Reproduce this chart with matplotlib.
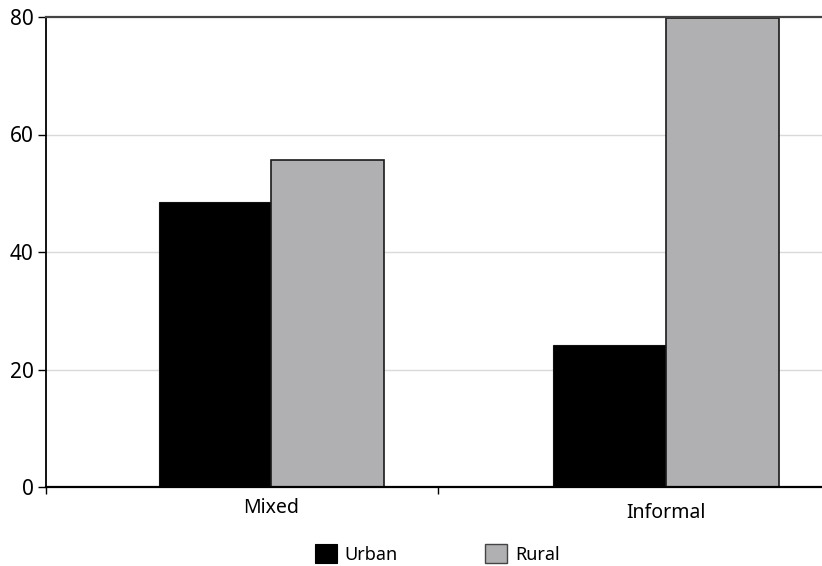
import matplotlib
matplotlib.use("Agg")
import matplotlib.pyplot as plt
from matplotlib.patches import Patch
from matplotlib.transforms import blended_transform_factory

categories = ["Mixed", "Informal"]
urban = [48.5, 24.2]
rural = [55.7, 79.8]
series_names = ["Urban", "Rural"]
yticks = [0, 20, 40, 60, 80]

plt.rcParams["font.family"] = ["Noto Sans", "DejaVu Sans"]

fig = plt.figure(figsize=(8.22, 5.66), dpi=100)
ax = fig.add_axes([46 / 822, 79 / 566, 1 - 46 / 822, 470 / 566])

x = list(range(len(categories)))
w = 0.285
urban_color = "#000000"
rural_color = "#b0b0b2"
ax.bar([i - w / 2 for i in x], urban, width=w, color=urban_color,
       edgecolor="#111111", linewidth=0.8, zorder=3)
ax.bar([i + w / 2 for i in x], rural, width=w, color=rural_color,
       edgecolor="#1a1a1a", linewidth=1.2, zorder=3)

ax.set_xlim(-0.57, 1.395)
ax.set_ylim(0, 80)
ax.set_yticks(yticks)
ax.tick_params(axis="y", direction="out", length=6, width=1, labelsize=15, pad=3)
ax.set_xticks([-0.57, 0.423])
ax.set_xticklabels([])
ax.tick_params(axis="x", direction="out", length=5, width=1)

for y in yticks[1:-1]:
    ax.axhline(y, color="#d9d9d9", linewidth=1, zorder=1)
ax.axhline(80, color="#444444", linewidth=1.6, zorder=4, clip_on=False)

for side in ["top", "right"]:
    ax.spines[side].set_visible(False)
ax.spines["left"].set_linewidth(1.3)
ax.spines["bottom"].set_linewidth(1.6)
ax.spines["bottom"].set_zorder(5)

trans = blended_transform_factory(ax.transData, fig.transFigure)
ax.text(x[0], 1 - 508 / 566, categories[0], transform=trans, ha="center",
        va="center", fontsize=14)
ax.text(x[1], 1 - 513 / 566, categories[1], transform=trans, ha="center",
        va="center", fontsize=14)

handles = [Patch(facecolor=urban_color, edgecolor="#000000", linewidth=0.8),
           Patch(facecolor=rural_color, edgecolor="#444444", linewidth=1.0)]
fig.legend(handles, series_names, loc="center", bbox_to_anchor=(437 / 822, 1 - 554 / 566),
           ncol=2, frameon=False, fontsize=13, handlelength=1.22, handleheight=1.22,
           handletextpad=0.45, columnspacing=4.8)

fig.savefig("out.png", dpi=100)
